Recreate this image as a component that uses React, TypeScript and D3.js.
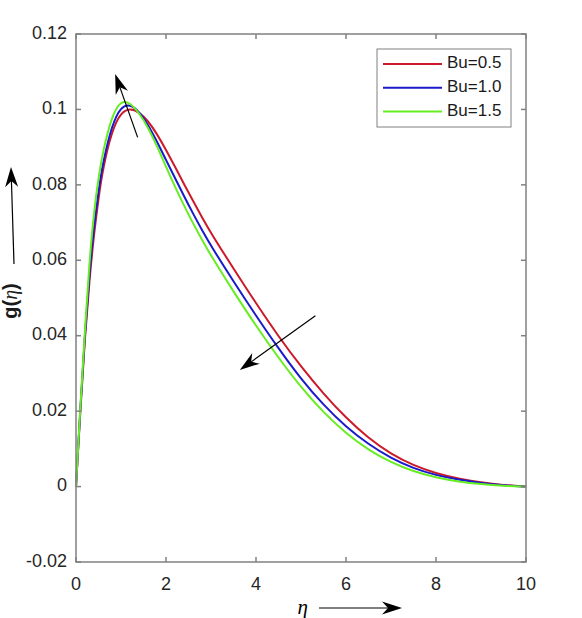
import React, { useRef, useEffect } from 'react';
import * as d3 from 'd3';

// eta grid shared by all three curves
const eta = [0, 0.1, 0.2, 0.3, 0.4, 0.5, 0.6, 0.8, 1.0, 1.2, 1.4, 1.6, 1.8, 2.0, 2.2, 2.4, 2.6, 2.8, 3.0, 3.5, 4.0, 4.5, 5.0, 5.5, 6.0, 6.5, 7.0, 7.5, 8.0, 8.5, 9.0, 9.5, 10];

const gBu05 = [0, 0.021, 0.040, 0.055, 0.067, 0.0765, 0.0845, 0.0945, 0.0992, 0.1003, 0.0993, 0.0970, 0.0935, 0.0893, 0.0848, 0.0802, 0.0758, 0.0714, 0.0672, 0.0578, 0.0486, 0.0398, 0.0318, 0.0246, 0.0182, 0.0128, 0.0086, 0.0056, 0.0035, 0.0021, 0.0011, 0.0004, 0];
const gBu10 = [0, 0.0215, 0.041, 0.057, 0.069, 0.0785, 0.086, 0.096, 0.1008, 0.1014, 0.0995, 0.0960, 0.0915, 0.0866, 0.0818, 0.0770, 0.0724, 0.0680, 0.0638, 0.0544, 0.0453, 0.0366, 0.0285, 0.0216, 0.0158, 0.0112, 0.0075, 0.0048, 0.0030, 0.0018, 0.0009, 0.0003, 0];
const gBu15 = [0, 0.022, 0.042, 0.060, 0.073, 0.082, 0.089, 0.0985, 0.1024, 0.1018, 0.0991, 0.0953, 0.0903, 0.0848, 0.0795, 0.0745, 0.0698, 0.0654, 0.0612, 0.0517, 0.0426, 0.0341, 0.0263, 0.0196, 0.0141, 0.0097, 0.0064, 0.0040, 0.0024, 0.0013, 0.0006, 0.0002, 0];

const seriesNames = ['Bu=0.5', 'Bu=1.0', 'Bu=1.5'];
const seriesValues = [gBu05, gBu10, gBu15];
const seriesColors = ['#cc1a2a', '#1a1acc', '#66ee22'];

const xTicks = [0, 2, 4, 6, 8, 10];
const yTicks = [-0.02, 0, 0.02, 0.04, 0.06, 0.08, 0.1, 0.12];

function App() {
    const svgRef = useRef<SVGSVGElement | null>(null);

    useEffect(() => {
        if (!svgRef.current) return;
        const svg = d3.select(svgRef.current);
        svg.selectAll('*').remove();

        const width = 582;
        const height = 618;
        const margin = { top: 34, right: 56, bottom: 56, left: 76 };
        const font = 'Liberation Sans, Arial, sans-serif';
        const serif = 'Liberation Serif, Times New Roman, serif';
        const axisColor = '#808080';

        const x = d3.scaleLinear().domain([0, 10]).range([margin.left, width - margin.right]);
        const y = d3.scaleLinear().domain([-0.02, 0.12]).range([height - margin.bottom, margin.top]);

        svg.attr('width', width).attr('height', height);
        svg.append('rect').attr('width', width).attr('height', height).attr('fill', '#fff');

        // Curves
        const line = d3.line<number>()
            .x((_, i) => x(eta[i]))
            .y(d => y(d))
            .curve(d3.curveBasis);

        seriesValues.forEach((vals, i) => {
            svg.append('path')
                .datum(vals)
                .attr('fill', 'none')
                .attr('stroke', seriesColors[i])
                .attr('stroke-width', 2)
                .attr('d', line);
        });

        // Axes box with inward ticks on all sides
        const [x0, x1] = x.range();
        const [y0, y1] = y.range();
        const tickLen = 5;
        const axes = svg.append('g').attr('stroke', axisColor).attr('stroke-width', 1.5);
        xTicks.forEach(t => {
            axes.append('line').attr('x1', x(t)).attr('x2', x(t)).attr('y1', y0).attr('y2', y0 - tickLen);
            axes.append('line').attr('x1', x(t)).attr('x2', x(t)).attr('y1', y1).attr('y2', y1 + tickLen);
        });
        yTicks.forEach(t => {
            axes.append('line').attr('x1', x0).attr('x2', x0 + tickLen).attr('y1', y(t)).attr('y2', y(t));
            axes.append('line').attr('x1', x1).attr('x2', x1 - tickLen).attr('y1', y(t)).attr('y2', y(t));
        });
        axes.append('rect')
            .attr('x', x0).attr('y', y1)
            .attr('width', x1 - x0).attr('height', y0 - y1)
            .attr('fill', 'none');

        // Tick labels
        svg.append('g')
            .selectAll('text')
            .data(xTicks)
            .join('text')
            .attr('x', d => x(d))
            .attr('y', y0 + 23)
            .attr('text-anchor', 'middle')
            .attr('dominant-baseline', 'middle')
            .attr('font-family', font)
            .attr('font-size', 18)
            .attr('fill', '#262626')
            .text(d => String(d));

        svg.append('g')
            .selectAll('text')
            .data(yTicks)
            .join('text')
            .attr('x', x0 - 9)
            .attr('y', d => y(d))
            .attr('text-anchor', 'end')
            .attr('dominant-baseline', 'middle')
            .attr('font-family', font)
            .attr('font-size', 18)
            .attr('fill', '#262626')
            .text(d => String(+d.toFixed(2)));

        // Arrow helper: thin shaft with a barbed filled head
        const arrow = (ax: number, ay: number, bx: number, by: number, headLen = 20, halfW = 6.5, notch = 6) => {
            const ang = Math.atan2(by - ay, bx - ax);
            const ux = Math.cos(ang), uy = Math.sin(ang);
            const px = -uy, py = ux;
            const baseX = bx - ux * headLen, baseY = by - uy * headLen;
            const notchX = bx - ux * (headLen - notch), notchY = by - uy * (headLen - notch);
            svg.append('line')
                .attr('x1', ax).attr('y1', ay)
                .attr('x2', notchX).attr('y2', notchY)
                .attr('stroke', '#000').attr('stroke-width', 1.2);
            const pts: [number, number][] = [
                [bx, by],
                [baseX + px * halfW, baseY + py * halfW],
                [notchX, notchY],
                [baseX - px * halfW, baseY - py * halfW],
            ];
            svg.append('path')
                .attr('d', 'M' + pts.map(p => p.join(',')).join('L') + 'Z')
                .attr('fill', '#000');
        };

        // Annotation arrows in data coordinates
        arrow(x(1.37), y(0.0926), x(0.87), y(0.1094));
        arrow(x(5.32), y(0.0453), x(3.64), y(0.0309));

        // Axis label arrows
        arrow(14, 264, 11, 167);
        arrow(319, 608, 402, 608);

        // Axis labels
        svg.append('text')
            .attr('x', 308)
            .attr('y', 614)
            .attr('text-anchor', 'end')
            .attr('font-family', serif)
            .attr('font-style', 'italic')
            .attr('font-size', 21)
            .text('η');

        const yl = svg.append('text')
            .attr('transform', 'translate(17,301) rotate(-90)')
            .attr('text-anchor', 'middle')
            .attr('font-family', font)
            .attr('font-weight', 'bold')
            .attr('font-size', 20)
            .attr('fill', '#1a1a1a');
        yl.append('tspan').text('g(');
        yl.append('tspan')
            .attr('font-family', serif)
            .attr('font-style', 'italic')
            .attr('font-weight', 'normal')
            .text('η');
        yl.append('tspan').text(')');

        // Legend
        const lg = svg.append('g');
        lg.append('rect')
            .attr('x', 377).attr('y', 49)
            .attr('width', 134).attr('height', 78)
            .attr('fill', '#fff')
            .attr('stroke', axisColor)
            .attr('stroke-width', 1);
        seriesNames.forEach((name, i) => {
            const ly = 64 + i * 23.8;
            lg.append('line')
                .attr('x1', 383).attr('x2', 442)
                .attr('y1', ly).attr('y2', ly)
                .attr('stroke', seriesColors[i])
                .attr('stroke-width', 2);
            lg.append('text')
                .attr('x', 447)
                .attr('y', ly)
                .attr('dominant-baseline', 'middle')
                .attr('font-family', font)
                .attr('font-size', 17)
                .attr('fill', '#1a1a1a')
                .text(name);
        });
    }, []);

    return (
        <div style={{ position: 'absolute', left: 0, top: 0 }}>
            <svg ref={svgRef}></svg>
        </div>
    );
}

export default App;
